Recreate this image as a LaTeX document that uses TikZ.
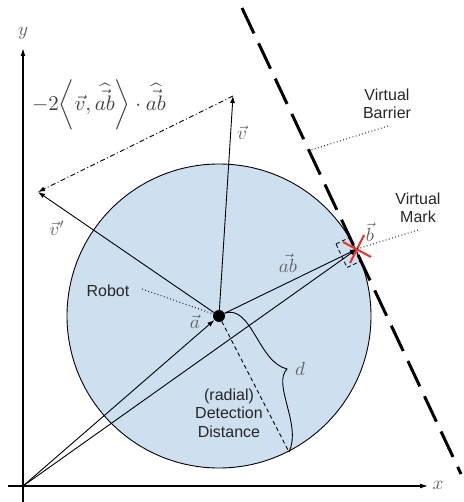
\documentclass[tikz,border=0pt]{standalone}
\usepackage{fontspec}
\setmainfont{Liberation Sans}
\usetikzlibrary{arrows.meta}
\definecolor{discfill}{RGB}{206,223,240}
\definecolor{xred}{RGB}{232,52,40}
\tikzset{
  vec/.style={-{Latex[length=7pt,width=5pt]}, line width=0.9pt},
  axis/.style={-{Latex[length=8pt,width=5pt]}, line width=1.4pt},
  lbl/.style={text=black!62, scale=1.9, inner sep=0pt},
  formula/.style={text=black!75, scale=2.1, inner sep=0pt},
  txt/.style={font=\fontsize{16}{18.5}\selectfont, align=center, text=black!85, inner sep=0pt},
  lead/.style={line width=0.9pt, dash pattern=on 0.9pt off 2.4pt},
  barrier/.style={line width=3pt, dash pattern=on 28pt off 11pt},
  markbox/.style={line width=0.8pt, dash pattern=on 4pt off 2.5pt},
  cross/.style={xred, line width=2pt},
  robotdot/.style={circle, fill=black, inner sep=0pt, minimum size=12pt},
}
\begin{document}
\begin{tikzpicture}[x=1pt,y=-1pt]
\useasboundingbox (0,0) rectangle (463,502);
% key points
\coordinate (O) at (23,486);
\coordinate (yStart) at (23,502);
\coordinate (yEnd) at (23,48);
\coordinate (xStart) at (8,486);
\coordinate (xEnd) at (428,486);
\coordinate (Rc) at (219,316);
\coordinate (B) at (357,249);
\coordinate (V) at (233,96);
\coordinate (Vp) at (38,192);
\coordinate (P) at (289,452);
\coordinate (T1) at (242,8);
\coordinate (T2) at (461,474);
\coordinate (BarrierPt) at (311,150);
% detection disc
\draw[line width=0.9pt, fill=discfill] (Rc) circle [radius=152pt];
% axes
\draw[axis] (yStart) -- (yEnd);
\draw[axis, line width=1.1pt] (xStart) -- (xEnd);
\node[lbl] (ylab) at (23,33) {$y$};
\node[lbl] (xlab) at (438,485) {$x$};
% robot
\node[robotdot] (R) at (Rc) {};
% radial dashed line
\draw[line width=0.9pt, dash pattern=on 4pt off 3pt] (R) -- (P);
% brace
\draw[line width=0.9pt] (225,313) .. controls (252,305) and (258,362) .. (287,369)
                       .. controls (272,384) and (302,425) .. (P);
% vectors
\draw[vec] (O) -- (R);
\draw[vec] (O) -- (B);
\draw[vec] (R) -- (B);
\draw[vec] (R) -- (V);
\draw[vec] (R) -- (Vp);
\draw[-{Latex[length=7pt,width=5pt]}, line width=0.9pt,
      dash pattern=on 5pt off 2.5pt on 1pt off 2.5pt] (V) -- (Vp);
% barrier
\draw[barrier] (T1) -- (T2);
% mark box and cross
\draw[markbox] (336,244) -- (349.6,237.5) -- (360.6,261.1) -- (347,267.5) -- cycle;
\draw[cross] (343,242) -- (371,257);
\draw[cross] (364,235) -- (350,263);
% math labels
\node[formula] (f) at (99,105) {$-2\biggl\langle\vec{v},\widehat{\vec{ab}}\biggr\rangle\cdot\widehat{\vec{ab}}$};
\node[lbl] (vl) at (242,133) {$\vec{v}$};
\node[lbl] (vpl) at (57,228) {$\vec{v}'$};
\node[lbl] (abl) at (288,263) {$\vec{ab}$};
\node[lbl] (al) at (195,322) {$\vec{a}$};
\node[lbl] (bl) at (370,232) {$\vec{b}$};
\node[lbl] (dl) at (300,369) {$d$};
% text labels
\node[txt] (robot) at (108,291) {Robot};
\node[txt] (vb) at (387,104) {Virtual\\Barrier};
\node[txt] (vm) at (418,208) {Virtual\\Mark};
\node[txt] (dd) at (229,413) {(radial)\\Detection\\Distance};
% leaders
\coordinate (robotLead) at (142,289);
\coordinate (vbLead) at (388,126);
\coordinate (vmLead) at (418,230);
\draw[lead] (robotLead) -- (R);
\draw[lead] (vbLead) -- (BarrierPt);
\draw[lead] (vmLead) -- (B);
\end{tikzpicture}
\end{document}
